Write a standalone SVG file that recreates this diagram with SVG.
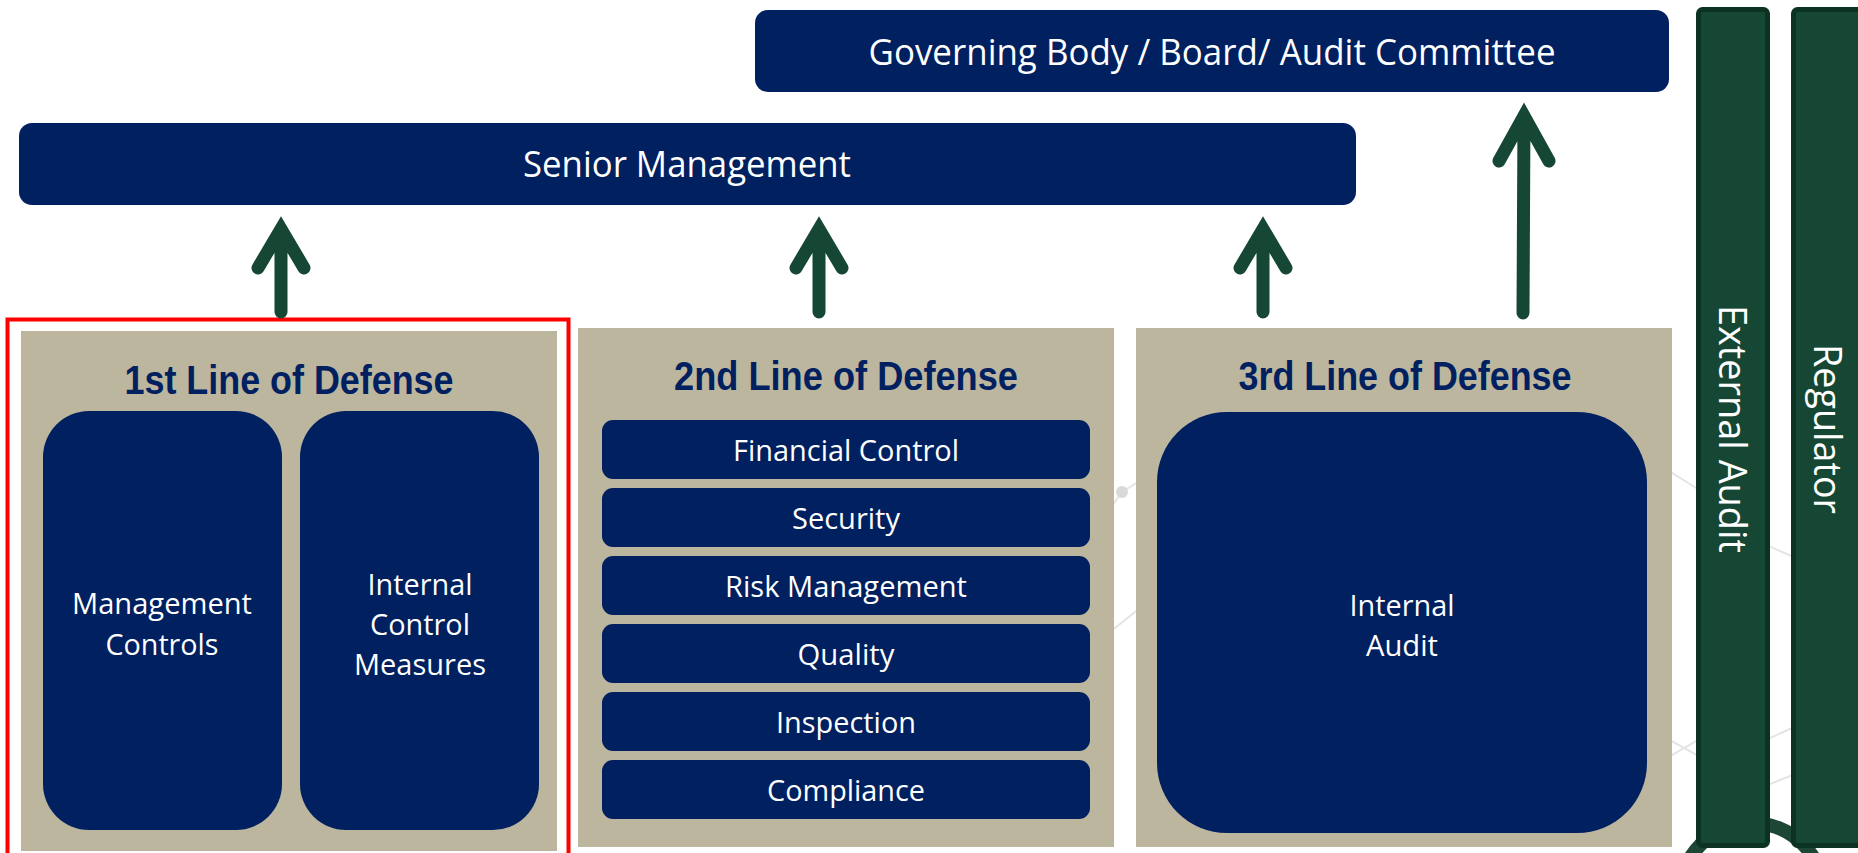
<svg xmlns="http://www.w3.org/2000/svg" width="1858" height="853" viewBox="0 0 1858 853">
  <style>
    .navy { fill: #002060; }
    .panel { fill: #bcb69e; }
    .bar { fill: #154734; stroke: #0c3322; stroke-width: 5; }
    .txt { font-family: "Open Sans", "Noto Sans", sans-serif; fill: #ffffff; text-anchor: middle; }
    .s30 { font-size: 30px; }
    .s36 { font-size: 36px; }
    .s39 { font-size: 39px; }
    .title { font-family: "Liberation Sans", Arial, sans-serif; font-weight: bold; font-size: 40px; fill: #002060; text-anchor: middle; }
    .arrow { fill: none; stroke: #154734; stroke-width: 13; stroke-linecap: round; stroke-linejoin: miter; }
    .bg { fill: none; stroke: #e4e4e4; stroke-width: 2; }
  </style>
  <rect x="0" y="0" width="1858" height="853" fill="#ffffff"/>

  <g id="background">
    <path class="bg" d="M1655,462 L1715,500 M1655,765 L1715,730 M1655,732 L1715,765 M1755,745 L1805,722 M1755,540 L1805,562 M1755,790 L1805,770 M1122,492 L1170,462 M1122,492 L1095,530 M1100,640 L1150,600"/>
    <circle cx="1122" cy="492" r="6" fill="#d9d9d9"/>
    <circle cx="1752" cy="895" r="72" fill="none" stroke="#1d4635" stroke-width="14"/>
  </g>

  <g id="governing-body">
    <rect class="navy" x="755" y="10" width="914" height="82" rx="13"/>
    <text class="txt s36" x="1212" y="65" textLength="687" lengthAdjust="spacingAndGlyphs">Governing Body / Board/ Audit Committee</text>
  </g>

  <g id="senior-management">
    <rect class="navy" x="19" y="123" width="1337" height="82" rx="13"/>
    <text class="txt s36" x="687" y="177" textLength="328" lengthAdjust="spacingAndGlyphs">Senior Management</text>
  </g>

  <g id="external-audit">
    <rect class="bar" x="1698.5" y="9.5" width="69" height="836" rx="4"/>
    <text class="txt s39" transform="translate(1719,429) rotate(90)" x="0" y="0" textLength="248" lengthAdjust="spacingAndGlyphs">External Audit</text>
  </g>

  <g id="regulator">
    <rect class="bar" x="1793.5" y="9.5" width="90" height="836" rx="4"/>
    <text class="txt s39" transform="translate(1814,429) rotate(90)" x="0" y="0" textLength="170" lengthAdjust="spacingAndGlyphs">Regulator</text>
  </g>

  <g id="first-line">
    <rect class="panel" x="21" y="331" width="536" height="520"/>
    <text class="title" x="289" y="394" textLength="329" lengthAdjust="spacingAndGlyphs">1st Line of Defense</text>
    <g id="management-controls">
      <rect class="navy" x="43" y="411" width="239" height="419" rx="46"/>
      <text class="txt s30" x="162" y="614" textLength="180" lengthAdjust="spacingAndGlyphs">Management</text>
      <text class="txt s30" x="162" y="655" textLength="113" lengthAdjust="spacingAndGlyphs">Controls</text>
    </g>
    <g id="internal-control-measures">
      <rect class="navy" x="300" y="411" width="239" height="419" rx="46"/>
      <text class="txt s30" x="420" y="595" textLength="105" lengthAdjust="spacingAndGlyphs">Internal</text>
      <text class="txt s30" x="420" y="635" textLength="100" lengthAdjust="spacingAndGlyphs">Control</text>
      <text class="txt s30" x="420" y="675" textLength="132" lengthAdjust="spacingAndGlyphs">Measures</text>
    </g>
  </g>

  <g id="first-line-highlight">
    <rect x="7.5" y="319.5" width="561" height="600" fill="none" stroke="#ff0000" stroke-width="4"/>
  </g>

  <g id="second-line">
    <rect class="panel" x="578" y="328" width="536" height="519"/>
    <text class="title" x="846" y="390" textLength="344" lengthAdjust="spacingAndGlyphs">2nd Line of Defense</text>
    <g id="financial-control">
      <rect class="navy" x="602" y="420" width="488" height="59" rx="11"/>
      <text class="txt s30" x="846" y="461" textLength="226" lengthAdjust="spacingAndGlyphs">Financial Control</text>
    </g>
    <g id="security">
      <rect class="navy" x="602" y="488" width="488" height="59" rx="11"/>
      <text class="txt s30" x="846" y="529" textLength="108" lengthAdjust="spacingAndGlyphs">Security</text>
    </g>
    <g id="risk-management">
      <rect class="navy" x="602" y="556" width="488" height="59" rx="11"/>
      <text class="txt s30" x="846" y="597" textLength="242" lengthAdjust="spacingAndGlyphs">Risk Management</text>
    </g>
    <g id="quality">
      <rect class="navy" x="602" y="624" width="488" height="59" rx="11"/>
      <text class="txt s30" x="846" y="665" textLength="97" lengthAdjust="spacingAndGlyphs">Quality</text>
    </g>
    <g id="inspection">
      <rect class="navy" x="602" y="692" width="488" height="59" rx="11"/>
      <text class="txt s30" x="846" y="733" textLength="140" lengthAdjust="spacingAndGlyphs">Inspection</text>
    </g>
    <g id="compliance">
      <rect class="navy" x="602" y="760" width="488" height="59" rx="11"/>
      <text class="txt s30" x="846" y="801" textLength="158" lengthAdjust="spacingAndGlyphs">Compliance</text>
    </g>
  </g>

  <g id="third-line">
    <rect class="panel" x="1136" y="328" width="536" height="519"/>
    <text class="title" x="1405" y="390" textLength="333" lengthAdjust="spacingAndGlyphs">3rd Line of Defense</text>
    <g id="internal-audit">
      <rect class="navy" x="1157" y="412" width="490" height="421" rx="70"/>
      <text class="txt s30" x="1402" y="616" textLength="105" lengthAdjust="spacingAndGlyphs">Internal</text>
      <text class="txt s30" x="1402" y="656" textLength="72" lengthAdjust="spacingAndGlyphs">Audit</text>
    </g>
  </g>

  <g id="connectors">
    <path class="arrow" d="M258,268 L281,229 L304,268 M281,229 L281,312"/>
    <path class="arrow" d="M796,268 L819,229 L842,268 M819,229 L819,312"/>
    <path class="arrow" d="M1240,268 L1263,229 L1286,268 M1263,229 L1263,312"/>
    <path class="arrow" d="M1499,161 L1524,116 L1549,161 M1524,116 L1523,313"/>
  </g>
</svg>
